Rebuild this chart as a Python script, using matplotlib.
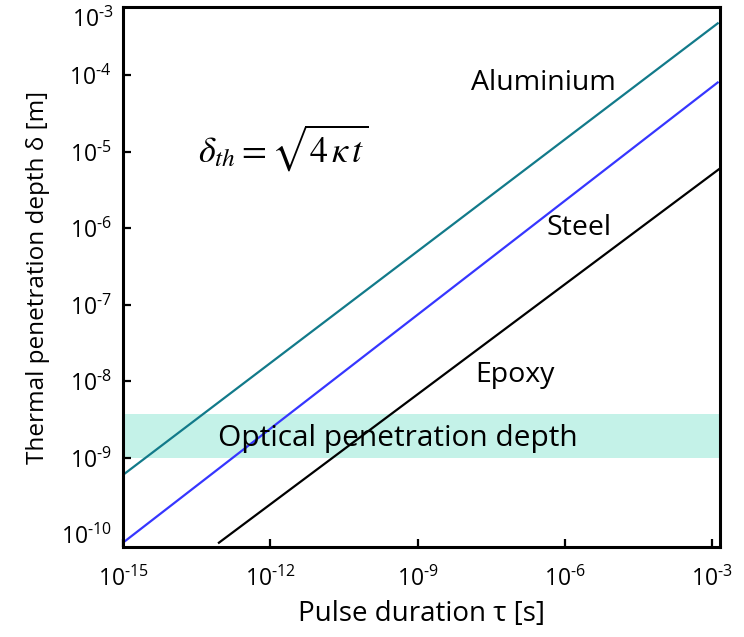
import matplotlib
matplotlib.use("Agg")
import matplotlib.pyplot as plt

plt.rcParams["font.family"] = ["Open Sans", "DejaVu Sans"]
plt.rcParams["mathtext.fontset"] = "custom"
plt.rcParams["mathtext.rm"] = "Open Sans"
plt.rcParams["mathtext.it"] = "Open Sans:italic"

# endpoints of the diffusion lines
tau_al = [1e-15, 1.3e-3]
delta_al = [6.0e-10, 4.8e-4]
tau_steel = [1e-15, 1.3e-3]
delta_steel = [7.8e-11, 8.1e-5]
tau_epoxy = [9e-14, 1.5e-3]
delta_epoxy = [7.8e-11, 6.2e-6]

# optical penetration band
optical_band = [1.0e-9, 3.7e-9]

x_ticks = [1e-15, 1e-12, 1e-9, 1e-6, 1e-3]
x_labels = ["15", "12", "9", "6", "3"]
y_ticks = [1e-10, 1e-9, 1e-8, 1e-7, 1e-6, 1e-5, 1e-4]
y_labels = ["10", "9", "8", "7", "6", "5", "4"]


def pow_label(e):
    return rf"$\mathregular{{10^{{\text{{-}}{e}}}}}$"


fig = plt.figure(figsize=(7.44, 6.37), dpi=100)
ax = fig.add_axes([0.1653, 0.1413, 0.8024, 0.8477])

ax.axhspan(optical_band[0], optical_band[1], color="#c4f2e8", lw=0, zorder=1)
ax.plot(tau_al, delta_al, color="#127a8a", lw=1.6, zorder=2)
ax.plot(tau_steel, delta_steel, color="#3636ff", lw=1.6, zorder=2)
ax.plot(tau_epoxy, delta_epoxy, color="black", lw=1.6, zorder=2)

ax.set_xscale("log")
ax.set_yscale("log")
ax.set_xlim(1e-15, 10 ** -2.84)
ax.set_ylim(10 ** -10.164, 10 ** -3.105)

ax.set_xticks(x_ticks)
ax.set_xticklabels([pow_label(e) for e in x_labels])
ax.set_yticks(y_ticks)
ax.set_yticklabels([pow_label(e) for e in y_labels])
ax.minorticks_off()
ax.tick_params(direction="in", length=6, width=1.6, labelsize=16.5)
ax.tick_params(axis="x", pad=14)
ax.tick_params(axis="y", pad=8)
ax.yaxis.get_major_ticks()[0].tick1line.set_visible(False)
for s in ax.spines.values():
    s.set_linewidth(2.2)

ax.text(-0.015, 0.975, pow_label("3"), transform=ax.transAxes, ha="right",
        va="center", fontsize=16.5)

ax.set_xlabel("Pulse duration τ [s]", fontsize=20, labelpad=6)
ax.set_ylabel("Thermal penetration depth δ [m]", fontsize=17.5, labelpad=8)

ax.text(0.704, 0.859, "Aluminium", transform=ax.transAxes, ha="center",
        va="center", fontsize=20.5)
ax.text(0.764, 0.591, "Steel", transform=ax.transAxes, ha="center",
        va="center", fontsize=20.5)
ax.text(0.657, 0.319, "Epoxy", transform=ax.transAxes, ha="center",
        va="center", fontsize=20.5)
ax.text(0.461, 0.200, "Optical penetration depth", transform=ax.transAxes,
        ha="center", va="center", fontsize=21.5, zorder=3)
ax.text(0.268, 0.739, r"$\delta_{th} = \sqrt{4\,\kappa\, t}$", transform=ax.transAxes,
        ha="center", va="center", fontsize=26, math_fontfamily="stix")

fig.savefig("out.png", dpi=100)
